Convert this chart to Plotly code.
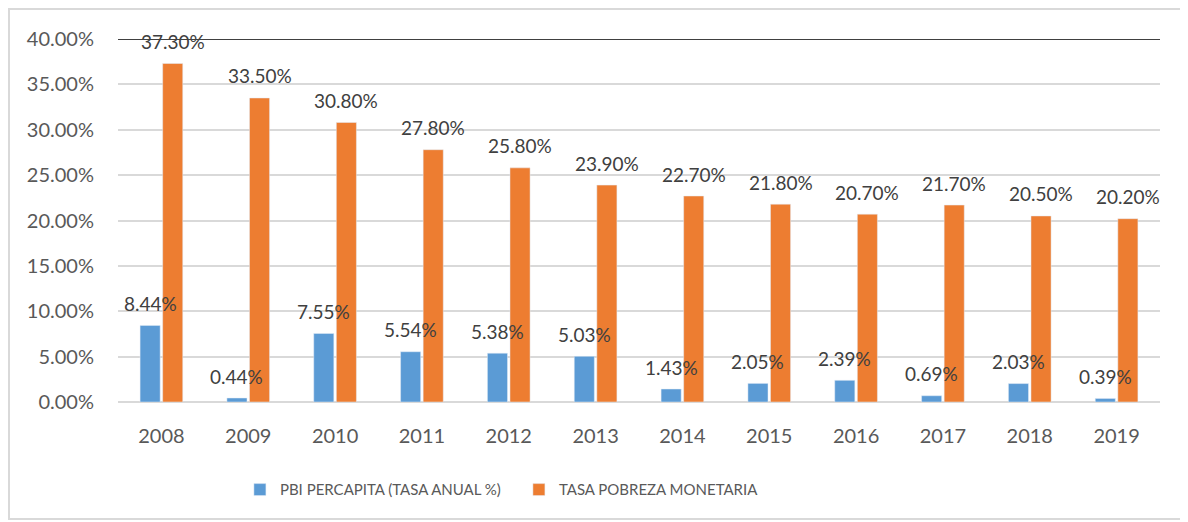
import plotly.graph_objects as go

years = ["2008", "2009", "2010", "2011", "2012", "2013",
         "2014", "2015", "2016", "2017", "2018", "2019"]
pbi = [0.0844, 0.0044, 0.0755, 0.0554, 0.0538, 0.0503,
       0.0143, 0.0205, 0.0239, 0.0069, 0.0203, 0.0039]
pobreza = [0.373, 0.335, 0.308, 0.278, 0.258, 0.239,
           0.227, 0.218, 0.207, 0.217, 0.205, 0.202]
y_ticks = [0, 0.05, 0.10, 0.15, 0.20, 0.25, 0.30, 0.35, 0.40]

font_name = "Lato, Calibri, sans-serif"

fig = go.Figure()
fig.add_trace(go.Bar(x=years, y=pbi, name="PBI PERCAPITA (TASA ANUAL %)",
                     marker_color="#5B9BD5"))
fig.add_trace(go.Bar(x=years, y=pobreza, name="TASA POBREZA MONETARIA",
                     marker_color="#ED7D31"))

# data labels as annotations so they sit above all bars (like Excel)
for i, (a, b) in enumerate(zip(pbi, pobreza)):
    for val, shift in ((a, -11.3), (b, 11.3)):
        fig.add_annotation(x=i, y=val, text=f"{val:.2%}", showarrow=False,
                           xanchor="center", yanchor="middle",
                           xshift=shift, yshift=22,
                           font=dict(size=19, color="#404040"))

# page body adds 8px offset, so the figure is a bit smaller than the window
fig.update_layout(
    width=1180, height=514,
    margin=dict(l=110, r=28, t=31, b=120),
    paper_bgcolor="white", plot_bgcolor="white",
    font=dict(family=font_name, color="#595959"),
    barmode="group", bargap=0.48, bargroupgap=0.11,
    legend=dict(orientation="h", x=0.117, xanchor="left", y=-0.242, yanchor="middle",
                font=dict(size=15, color="#595959"), itemwidth=30,
                entrywidth=234, traceorder="normal"),
    showlegend=True,
)
fig.update_yaxes(range=[0, 0.40], tickvals=y_ticks, tickformat=".2%",
                 showgrid=True, gridcolor="#D9D9D9", gridwidth=2,
                 zeroline=True, zerolinecolor="#D9D9D9", zerolinewidth=2,
                 tickfont=dict(size=20, color="#595959"), ticks="",
                 ticklabelstandoff=23)
fig.update_xaxes(type="category", range=[-0.5, len(years) - 0.5], showgrid=False,
                 tickfont=dict(size=20, color="#595959"),
                 ticks="", ticklabelstandoff=20)

# dark line at the top of the value axis
fig.add_shape(type="line", xref="paper", yref="y", x0=0, x1=1, y0=0.40, y1=0.40,
              line=dict(color="#404040", width=2), layer="above")
# chart border
fig.add_shape(type="rect", xref="paper", yref="paper",
              x0=-0.1046, x1=1.025, y0=-0.322, y1=1.0826,
              line=dict(color="#D9D9D9", width=2))

fig.write_html("out.html")
